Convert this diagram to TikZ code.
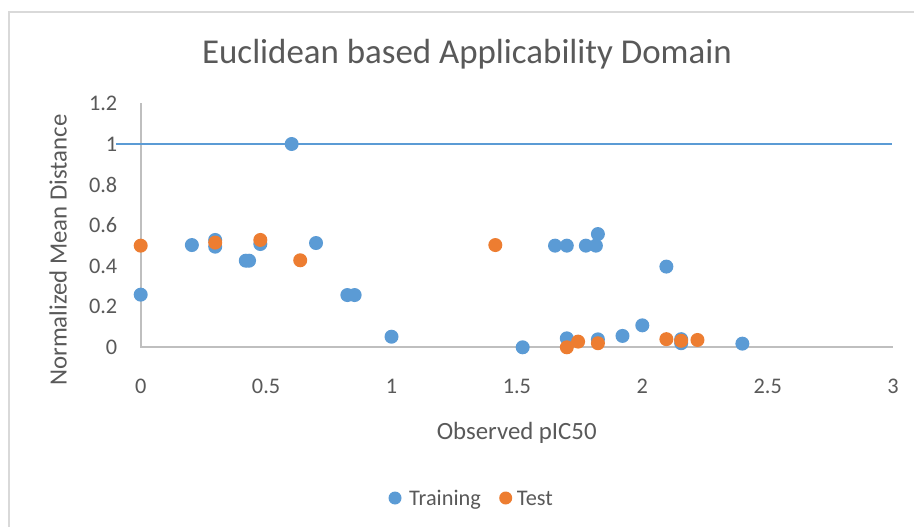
\documentclass[tikz,border=0pt]{standalone}
\usepackage{fontspec}
\setmainfont{Carlito}
\definecolor{tblue}{HTML}{5B9BD5}
\definecolor{torange}{HTML}{ED7D31}
\definecolor{txtgray}{HTML}{595959}
\definecolor{axgray}{HTML}{BFBFBF}
\definecolor{framegray}{HTML}{D9D9D9}
\tikzset{
  trdot/.style={circle,fill=tblue,inner sep=0pt,minimum size=14pt},
  tsdot/.style={circle,fill=torange,inner sep=0pt,minimum size=14pt},
  lgdot/.style={circle,inner sep=0pt,minimum size=13pt},
  ticklab/.style={text=txtgray,inner sep=0pt,font=\fontsize{22.3}{26}\selectfont},
  axtitle/.style={text=txtgray,inner sep=0pt,font=\fontsize{24.8}{29}\selectfont},
  axline/.style={draw=axgray,line width=1.8pt},
}
\begin{document}
\begin{tikzpicture}[x=1pt,y=-1pt]
\useasboundingbox (0,0) rectangle (914,527);
\fill[white] (0,0) rectangle (914,527);
% frame
\coordinate (f1) at (9,527);
\coordinate (f2) at (9,12);
\coordinate (f3) at (914,12);
\draw[framegray,line width=2pt] (f1) -- (f2) -- (f3);
% title
\node[text=txtgray,inner sep=0pt,font=\fontsize{34.9}{40}\selectfont] (title) at (467,54) {Euclidean based Applicability Domain};
% y tick labels
\node[ticklab,anchor=east] (y0) at (117.5,347.3) {0};
\node[ticklab,anchor=east] (y1) at (117.5,306.6) {0.2};
\node[ticklab,anchor=east] (y2) at (117.5,266.0) {0.4};
\node[ticklab,anchor=east] (y3) at (117.5,225.3) {0.6};
\node[ticklab,anchor=east] (y4) at (117.5,184.7) {0.8};
\node[ticklab,anchor=east] (y5) at (117.5,144.0) {1};
\node[ticklab,anchor=east] (y6) at (117.5,103.3) {1.2};
% x tick labels
\node[ticklab] (x0) at (140.7,386) {0};
\node[ticklab] (x1) at (266.1,386) {0.5};
\node[ticklab] (x2) at (391.5,386) {1};
\node[ticklab] (x3) at (516.9,386) {1.5};
\node[ticklab] (x4) at (642.3,386) {2};
\node[ticklab] (x5) at (767.7,386) {2.5};
\node[ticklab] (x6) at (893.1,386) {3};
% axis titles
\node[axtitle] (xt) at (516.7,433) {Observed pIC50};
\node[axtitle,rotate=90] (yt) at (58,250) {Normalized Mean Distance};
% legend
\node[lgdot,fill=tblue] (lg1) at (395,498) {};
\node[ticklab,anchor=base west] (lgt1) at (409,505.2) {Training};
\node[lgdot,fill=torange] (lg2) at (505.7,498) {};
\node[ticklab,anchor=base west] (lgt2) at (516.7,505.2) {Test};
% plot area
\begin{scope}[shift={(140.7pt,-347.3pt)},x=250.8pt,y=203.3pt]
  \coordinate (o) at (0,0);
  \coordinate (ytop) at (0,1.2);
  \coordinate (xend) at (3,0);
  \draw[axline] (ytop) -- (o) -- (xend);
  \coordinate (h1) at (-0.099,1);
  \coordinate (h2) at (2.996,1);
  \draw[tblue,line width=2.2pt] (h1) -- (h2);
  % training
  \foreach \px/\py [count=\i] in {0/0.259,0.204/0.503,0.297/0.528,0.297/0.495,0.419/0.426,0.432/0.426,0.477/0.508,0.602/1.0,0.699/0.513,0.824/0.257,0.853/0.257,1.0/0.052,1.523/0.0,1.652/0.5,1.699/0.5,1.775/0.5,1.815/0.5,1.823/0.557,2.096/0.397,1.699/0.044,1.823/0.039,1.921/0.056,2.0/0.108,2.155/0.04,2.155/0.02,2.399/0.018}
    \node[trdot] (tr\i) at (\px,\py) {};
  % test
  \foreach \px/\py [count=\i] in {0/0.5,0.297/0.515,0.477/0.528,0.636/0.428,1.414/0.503,1.699/0.0,1.744/0.028,1.823/0.02,2.096/0.04,2.155/0.032,2.22/0.036}
    \node[tsdot] (ts\i) at (\px,\py) {};
\end{scope}
\end{tikzpicture}
\end{document}
